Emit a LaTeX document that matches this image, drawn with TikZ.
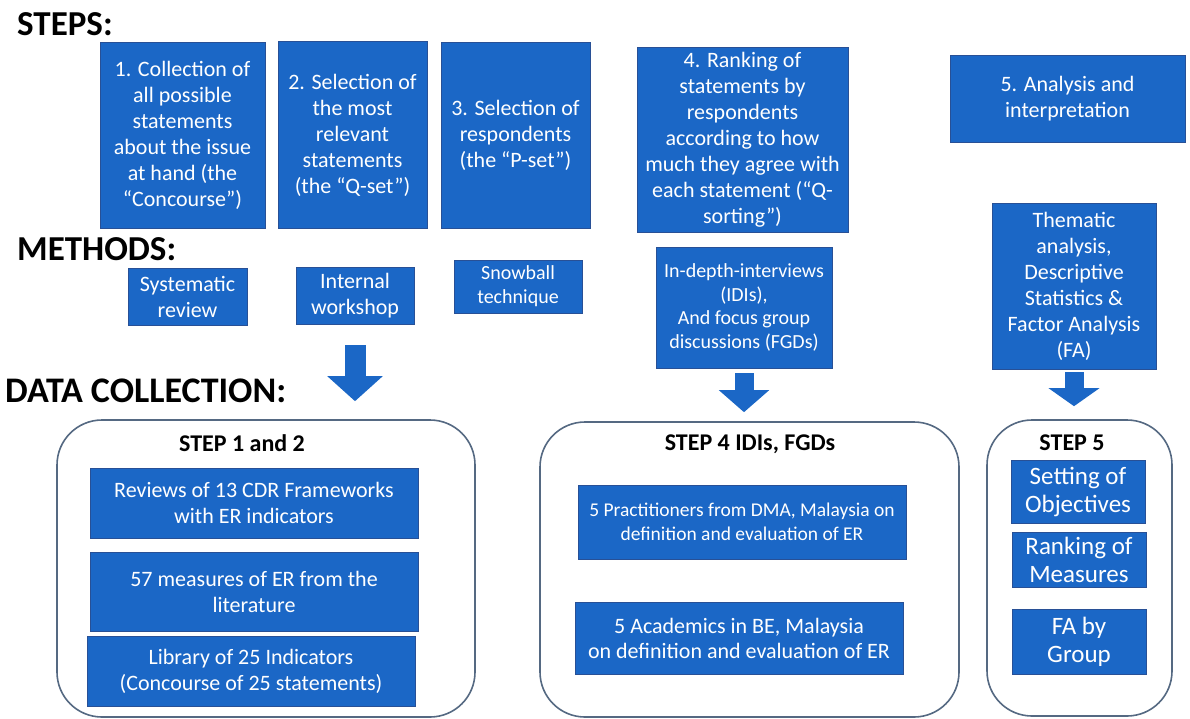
\documentclass[tikz,border=0pt]{standalone}
\usepackage{fontspec}
\setmainfont{Carlito}
\usetikzlibrary{positioning,arrows.meta}

\definecolor{qblue}{RGB}{27,103,198}
\definecolor{qedge}{RGB}{40,80,150}
\definecolor{qpanel}{RGB}{85,105,130}

\tikzset{
  qbox/.style={fill=qblue, draw=qedge, line width=0.8pt, text=white, align=center,
    inner sep=0pt, font=\fontsize{22}{26}\selectfont},
  qpanelbox/.style={draw=qpanel, line width=1.6pt, rounded corners=45pt, fill=white, inner sep=0pt},
  qhead/.style={anchor=base west, font=\bfseries\fontsize{35}{38}\selectfont, inner sep=0pt},
  qtitle/.style={anchor=base, font=\bfseries\fontsize{24}{27}\selectfont, inner sep=0pt},
  qarrow/.style={draw=qblue, line width=#1pt},
}

\begin{document}
\begin{tikzpicture}[x=1pt,y=-1pt]
    \useasboundingbox (0,0) rectangle (1190,718);

    % headings
    \node[qhead] (steps)   at (17,35)  {STEPS:};
    \node[qhead] (methods) at (17,260) {METHODS:};
    \node[qhead, font=\bfseries\fontsize{36}{38}\selectfont] (datacol) at (5,402) {DATA COLLECTION:};

    % steps
    \node[qbox, minimum width=165, minimum height=186] (st1) at (182.5,135.5)
      {1. Collection of\\all possible\\statements\\about the issue\\at hand (the\\``Concourse'')};
    \node[qbox, minimum width=149, minimum height=187] (st2) at (352.5,135)
      {2. Selection of\\the most\\relevant\\statements\\(the ``Q-set'')};
    \node[qbox, minimum width=149, minimum height=186] (st3) at (515.5,135.5)
      {3. Selection of\\respondents\\(the ``P-set'')};
    \node[qbox, minimum width=211, minimum height=185] (st4) at (742.5,139.5)
      {4. Ranking of\\statements by\\respondents\\according to how\\much they agree with\\each statement (``Q-\\sorting'')};
    \node[qbox, minimum width=235, minimum height=87] (st5) at (1067.5,98.5)
      {5. Analysis and\\interpretation};

    % methods
    \node[qbox, minimum width=119, minimum height=57] (me1) at (187.5,296.5)
      {Systematic\\review};
    \node[qbox, minimum width=118, minimum height=57] (me2) at (355,295.5)
      {Internal\\workshop};
    \node[qbox, minimum width=128, minimum height=53, font=\fontsize{20}{24}\selectfont] (me3) at (518,286.5)
      {Snowball\\technique};
    \node[qbox, minimum width=176, minimum height=121, font=\fontsize{20}{23.5}\selectfont] (me4) at (744,307.5)
      {In-depth-interviews\\(IDIs),\\And focus group\\discussions (FGDs)};
    \node[qbox, minimum width=164, minimum height=166] (me5) at (1074,286)
      {Thematic\\analysis,\\Descriptive\\Statistics \&\\Factor Analysis\\(FA)};

    % data collection panels
    \node[qpanelbox, minimum width=418, minimum height=297] (pa) at (266,568.5) {};
    \node[qpanelbox, minimum width=419, minimum height=295] (pb) at (749.5,569.5) {};
    \node[qpanelbox, minimum width=185, minimum height=296] (pc) at (1079.5,568) {};

    \node[qtitle] (pat) at (242,451) {STEP 1 and 2};
    \node[qtitle] (pbt) at (750,450) {STEP 4 IDIs, FGDs};
    \node[qtitle] (pct) at (1072,450) {STEP 5};

    \node[qbox, minimum width=328, minimum height=70] (da1) at (254,503)
      {Reviews of 13 CDR Frameworks\\with ER indicators};
    \node[qbox, minimum width=328, minimum height=79] (da2) at (254,591.5)
      {57 measures of ER from the\\literature};
    \node[qbox, minimum width=328, minimum height=70] (da3) at (251,671)
      {Library of 25 Indicators\\(Concourse of 25 statements)};

    \node[qbox, minimum width=328, minimum height=74, font=\fontsize{19.5}{24}\selectfont] (db1) at (742,522)
      {5 Practitioners from DMA, Malaysia on\\definition and evaluation of ER};
    \node[qbox, minimum width=328, minimum height=72, font=\fontsize{22}{25}\selectfont] (db2) at (739,638)
      {5 Academics in BE, Malaysia\\on definition and evaluation of ER};

    \node[qbox, minimum width=134, minimum height=63, font=\fontsize{25}{28}\selectfont] (dc1) at (1078,491.5)
      {Setting of\\Objectives};
    \node[qbox, minimum width=134, minimum height=55, font=\fontsize{25}{28}\selectfont] (dc2) at (1079,559.5)
      {Ranking of\\Measures};
    \node[qbox, minimum width=134, minimum height=65, font=\fontsize{25}{28}\selectfont] (dc3) at (1079,641.5)
      {FA by\\Group};

    % block arrows
    \draw[qarrow=21, -{Triangle[length=25pt,width=54pt]}, shorten <=21pt, shorten >=18pt]
      (me2.south) -- (me2.south |- pa.north);
    \draw[qarrow=19, -{Triangle[length=22pt,width=49pt]}, shorten <=5pt, shorten >=9pt]
      (me4.south) -- (me4.south |- pb.north);
    \draw[qarrow=19, -{Triangle[length=18pt,width=50pt]}, shorten <=3pt, shorten >=13pt]
      (me5.south) -- (me5.south |- pc.north);
\end{tikzpicture}
\end{document}
